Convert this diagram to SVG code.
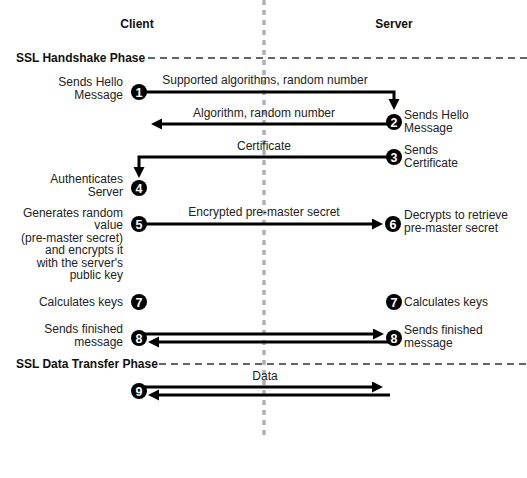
<svg xmlns="http://www.w3.org/2000/svg" width="527" height="478" viewBox="0 0 527 478">
<style>
.t{font-family:"Liberation Sans",Arial,sans-serif;font-size:12px;fill:#222}
.h{font-family:"Liberation Sans",Arial,sans-serif;font-size:12px;font-weight:bold;fill:#111}
.e{text-anchor:end}
.m{text-anchor:middle}
.n{font-family:"Liberation Sans",Arial,sans-serif;font-size:12.5px;font-weight:bold;fill:#fff;text-anchor:middle}
.c{fill:#000}
.ln{fill:none;stroke:#000;stroke-width:3;marker-end:url(#ah)}
.ph{stroke:#333;stroke-width:1.3;stroke-dasharray:7 5}
</style>
<defs>
<marker id="ah" markerUnits="userSpaceOnUse" markerWidth="12" markerHeight="12" refX="1" refY="5.5" orient="auto">
<path d="M0,0 L11,5.5 L0,11 z" fill="#000"/>
</marker>
</defs>
<rect width="527" height="478" fill="#fff"/>
<line x1="264" y1="0" x2="264" y2="438" stroke="#b0b0b0" stroke-width="3.5" stroke-dasharray="5 5"/>
<g id="headers">
<text class="h m" x="137" y="28">Client</text>
<text class="h m" x="394" y="28">Server</text>
<text class="h" x="16" y="62">SSL Handshake Phase</text>
<line class="ph" x1="148" y1="58" x2="527" y2="58"/>
<text class="h" x="16" y="368">SSL Data Transfer Phase</text>
<line class="ph" x1="159" y1="364" x2="527" y2="364"/>
</g>
<g id="connectors">
<path class="ln" d="M139,92 H394 V100"/>
<text class="t m" x="265" y="84">Supported algorithms, random number</text>
<path class="ln" d="M394,124 H161"/>
<text class="t m" x="264" y="117">Algorithm, random number</text>
<path class="ln" d="M394,157 H139 V168"/>
<text class="t m" x="264" y="150">Certificate</text>
<path class="ln" d="M139,224 H373"/>
<text class="t m" x="264" y="216">Encrypted pre-master secret</text>
<path class="ln" d="M139,334 H374"/>
<path class="ln" d="M394,342 H158"/>
<path class="ln" d="M139,387 H373"/>
<path class="ln" d="M390,395 H158"/>
<text class="t m" x="265" y="380">Data</text>
</g>
<g id="n1">
<circle class="c" cx="139" cy="92" r="8"/><text class="n" x="139" y="96.5">1</text>
<text class="t e" x="123" y="86">Sends Hello</text>
<text class="t e" x="123" y="98.5">Message</text>
</g>
<g id="n2">
<circle class="c" cx="394" cy="122" r="8"/><text class="n" x="394" y="126.5">2</text>
<text class="t" x="404" y="119">Sends Hello</text>
<text class="t" x="404" y="131.5">Message</text>
</g>
<g id="n3">
<circle class="c" cx="394" cy="157" r="8"/><text class="n" x="394" y="161.5">3</text>
<text class="t" x="404" y="154">Sends</text>
<text class="t" x="404" y="166.5">Certificate</text>
</g>
<g id="n4">
<circle class="c" cx="139" cy="188" r="8"/><text class="n" x="139" y="192.5">4</text>
<text class="t e" x="123" y="183">Authenticates</text>
<text class="t e" x="123" y="195.5">Server</text>
</g>
<g id="n5">
<circle class="c" cx="139" cy="224" r="8"/><text class="n" x="139" y="228.5">5</text>
<text class="t e" x="123" y="216.5">Generates random</text>
<text class="t e" x="123" y="229">value</text>
<text class="t e" x="123" y="241.5">(pre-master secret)</text>
<text class="t e" x="123" y="254">and encrypts it</text>
<text class="t e" x="123" y="266.5">with the server's</text>
<text class="t e" x="123" y="279">public key</text>
</g>
<g id="n6">
<circle class="c" cx="393" cy="224" r="8"/><text class="n" x="393" y="228.5">6</text>
<text class="t" x="404" y="219">Decrypts to retrieve</text>
<text class="t" x="404" y="231.5">pre-master secret</text>
</g>
<g id="n7a">
<circle class="c" cx="139" cy="302" r="8"/><text class="n" x="139" y="306.5">7</text>
<text class="t e" x="123" y="306">Calculates keys</text>
</g>
<g id="n7b">
<circle class="c" cx="394" cy="302" r="8"/><text class="n" x="394" y="306.5">7</text>
<text class="t" x="404" y="306">Calculates keys</text>
</g>
<g id="n8a">
<circle class="c" cx="139" cy="338" r="8"/><text class="n" x="139" y="342.5">8</text>
<text class="t e" x="123" y="333">Sends finished</text>
<text class="t e" x="123" y="345.5">message</text>
</g>
<g id="n8b">
<circle class="c" cx="394" cy="338" r="8"/><text class="n" x="394" y="342.5">8</text>
<text class="t" x="404" y="334">Sends finished</text>
<text class="t" x="404" y="346.5">message</text>
</g>
<g id="n9">
<circle class="c" cx="139" cy="391" r="8"/><text class="n" x="139" y="395.5">9</text>
</g>
</svg>
